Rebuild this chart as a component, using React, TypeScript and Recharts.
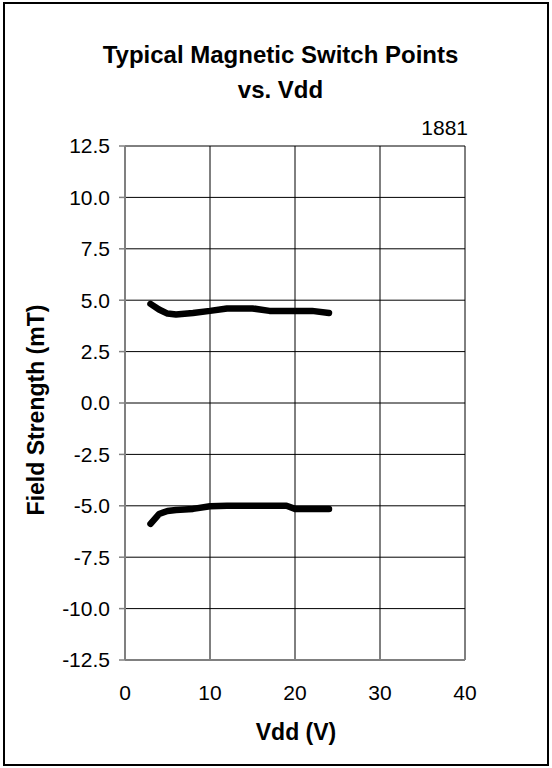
import { LineChart, Line, XAxis, YAxis, CartesianGrid } from 'recharts';

const vdd = [3, 4, 5, 6, 8, 10, 12, 15, 17, 19, 20, 22, 24];
const operatePoint = [4.82, 4.55, 4.35, 4.3, 4.38, 4.48, 4.6, 4.6, 4.48, 4.48, 4.48, 4.48, 4.38];
const releasePoint = [-5.88, -5.4, -5.25, -5.2, -5.15, -5.02, -5.0, -5.0, -5.0, -5.0, -5.15, -5.15, -5.15];

const xTicks = [0, 10, 20, 30, 40];
const yTicks = [-12.5, -10, -7.5, -5, -2.5, 0, 2.5, 5, 7.5, 10, 12.5];

const data = vdd.map((v, i) => ({ vdd: v, bop: operatePoint[i], brp: releasePoint[i] }));

const font = '"Liberation Sans", Arial, sans-serif';
const tickStyle = { fill: '#000', fontSize: 21, fontFamily: font };

export default function App() {
  return (
    <div style={{ position: 'absolute', left: 0, top: 0, width: 552, height: 768, background: '#fff', fontFamily: font }}>
      <div
        style={{
          position: 'absolute', left: 3, top: 2, width: 546, height: 764,
          border: '2px solid #000', boxSizing: 'border-box',
        }}
      />
      <div style={{ position: 'absolute', left: 0, width: 561, top: 37, textAlign: 'center', fontWeight: 'bold', fontSize: 24, lineHeight: '35px' }}>
        Typical Magnetic Switch Points<br />vs. Vdd
      </div>
      <div style={{ position: 'absolute', right: 552 - 468, top: 116, fontSize: 21 }}>1881</div>

      <LineChart width={552} height={768} data={data} margin={{ top: 146, right: 87, bottom: 48, left: 65 }}>
        <CartesianGrid stroke="#000" strokeWidth={1} />
        <XAxis
          dataKey="vdd"
          type="number"
          domain={[0, 40]}
          ticks={xTicks}
          height={60}
          tickLine={false}
          tickSize={0}
          tickMargin={25}
          axisLine={{ stroke: '#808080', strokeWidth: 2 }}
          tick={tickStyle}
        />
        <XAxis xAxisId="top" orientation="top" type="number" domain={[0, 40]} height={0} tick={false} tickLine={false} axisLine={{ stroke: '#808080', strokeWidth: 2 }} />
        <YAxis
          type="number"
          domain={[-12.5, 12.5]}
          ticks={yTicks}
          width={60}
          tickSize={6}
          tickMargin={9}
          tickFormatter={(v: number) => v.toFixed(1)}
          tickLine={{ stroke: '#808080', strokeWidth: 1.5 }}
          axisLine={{ stroke: '#808080', strokeWidth: 2 }}
          tick={tickStyle}
          interval={0}
        />
        <YAxis yAxisId="right" orientation="right" type="number" domain={[-12.5, 12.5]} width={0} tick={false} tickLine={false} axisLine={{ stroke: '#808080', strokeWidth: 2 }} />
        <Line dataKey="bop" type="linear" stroke="#000" strokeWidth={6.5} strokeLinecap="round" strokeLinejoin="round" dot={false} isAnimationActive={false} />
        <Line dataKey="brp" type="linear" stroke="#000" strokeWidth={6.5} strokeLinecap="round" strokeLinejoin="round" dot={false} isAnimationActive={false} />
      </LineChart>

      <div
        style={{
          position: 'absolute', left: 36, top: 410, width: 300, textAlign: 'center',
          fontWeight: 'bold', fontSize: 23, lineHeight: '24px',
          transform: 'translate(-50%, -50%) rotate(-90deg)',
        }}
      >
        Field Strength (mT)
      </div>
      <div style={{ position: 'absolute', left: 196, top: 719, width: 200, textAlign: 'center', fontWeight: 'bold', fontSize: 23 }}>
        Vdd (V)
      </div>
    </div>
  );
}
